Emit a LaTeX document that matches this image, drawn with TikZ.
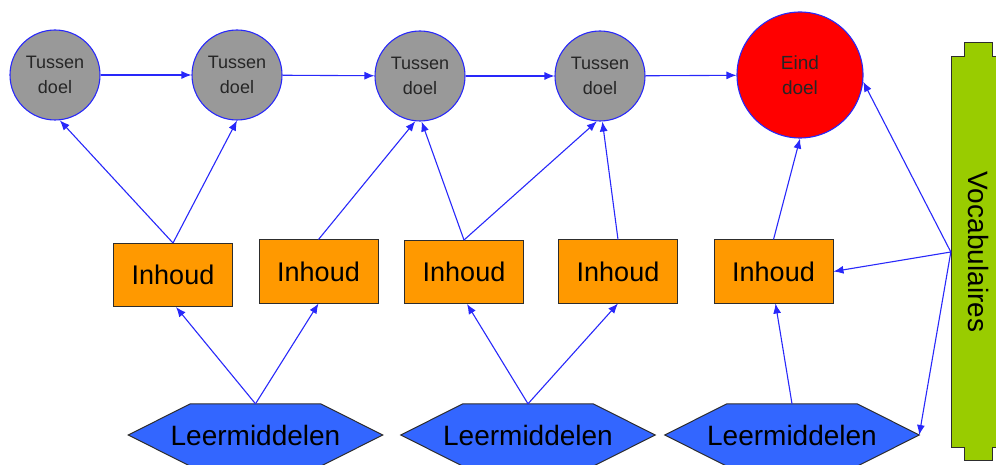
\documentclass[tikz,border=0pt]{standalone}
\usepackage{fontspec}
\usepackage{graphicx}
\setmainfont{Liberation Sans}
\usetikzlibrary{arrows.meta,backgrounds}

\definecolor{linkblue}{RGB}{40,40,250}
\definecolor{goalgray}{RGB}{153,153,153}
\definecolor{inhoudorange}{RGB}{255,153,0}
\definecolor{hexblue}{RGB}{51,102,255}
\definecolor{vocabgreen}{RGB}{153,204,0}
\definecolor{edgegray}{RGB}{45,45,45}

\begin{document}
\begin{tikzpicture}[x=1pt,y=-1pt,
  goal/.style={circle,draw=linkblue,line width=1.1pt,fill=goalgray,
    minimum size=90pt,inner sep=0pt,align=center,text=black!85,
    font=\fontsize{18}{25}\selectfont},
  endgoal/.style={goal,fill=red,minimum size=126pt,
    font=\fontsize{19}{25}\selectfont},
  content/.style={rectangle,draw=edgegray,line width=1pt,fill=inhoudorange,
    minimum width=119pt,minimum height=63pt,inner sep=0pt,
    font=\fontsize{27}{30}\selectfont},
  material/.style={rectangle,minimum width=254pt,minimum height=62pt,
    inner sep=0pt,font=\fontsize{28}{30}\selectfont},
  hexface/.style={fill=hexblue,draw=edgegray,line width=1pt},
  vocabface/.style={fill=vocabgreen,draw=edgegray,line width=1pt},
  link/.style={draw=linkblue,line width=1.1pt,-{Latex[length=10pt,width=8pt]}},
]
\clip (0,0) rectangle (996,465);

% intermediate goals and the final goal
\node[goal] (c1) at (55,75)  {Tussen\\doel};
\node[goal] (c2) at (237,75) {Tussen\\doel};
\node[goal] (c3) at (420,76) {Tussen\\doel};
\node[goal] (c4) at (600,76) {Tussen\\doel};
\node[endgoal] (e) at (800,75) {Eind\\doel};

% content blocks
\node[content] (i1) at (173,275)   {Inhoud};
\node[content] (i2) at (318.5,271.5) {Inhoud};
\node[content] (i3) at (464,272)   {Inhoud};
\node[content] (i4) at (618,271.5) {Inhoud};
\node[content] (i5) at (773.5,271.5) {Inhoud};

% learning materials (hexagons drawn on the background layer)
\node[material] (h1) at (255.5,435) {Leermiddelen};
\node[material] (h2) at (528,435)   {Leermiddelen};
\node[material] (h3) at (792,435)   {Leermiddelen};
\begin{scope}[on background layer]
  \foreach \h in {h1,h2,h3}
    \path[hexface] (\h.west) -- ([xshift=62pt]\h.north west)
      -- ([xshift=-62pt]\h.north east) -- (\h.east)
      -- ([xshift=-62pt]\h.south east) -- ([xshift=62pt]\h.south west) -- cycle;
\end{scope}

% vocabulary bar with its end tabs
\path[vocabface] (951,57) -- (964,57) -- (964,43) -- (992,43) -- (992,57)
  -- (1005,57) -- (1005,447) -- (992,447) -- (992,460) -- (964,460)
  -- (964,447) -- (951,447) -- cycle;
\node[minimum width=54pt,minimum height=390pt,inner sep=0pt,
  font=\fontsize{28}{30}\selectfont] (v) at (978,252)
  {\rotatebox{-90}{Vocabulaires}};

% goal chain
\draw[link] (c1) -- (c2);
\draw[link] (c2) -- (c3);
\draw[link] (c3) -- (c4);
\draw[link] (c4) -- (e);

% content to goals
\draw[link] (i1.north) -- (c1.-84);
\draw[link] (i1.north) -- (c2.south);
\draw[link] (i2.north) -- (c3.-96);
\draw[link] (i3.north) -- (c3.-88);
\draw[link] (i3.north) -- (c4.-94);
\draw[link] (i4.north) -- (c4.-87);
\draw[link] (i5.north) -- (e.south);

% materials to content
\draw[link] (h1.north) -- ([xshift=3pt]i1.south);
\draw[link] (h1.north) -- (i2.south);
\draw[link] (h2.north) -- ([xshift=3pt]i3.south);
\draw[link] (h2.north) -- (i4.south);
\draw[link] (h3.north) -- ([xshift=2pt]i5.south);

% vocabularies
\draw[link] (v.west) -- (e.-6);
\draw[link] (v.west) -- (i5.east);
\draw[link] (v.west) -- (h3.east);
\end{tikzpicture}
\end{document}
